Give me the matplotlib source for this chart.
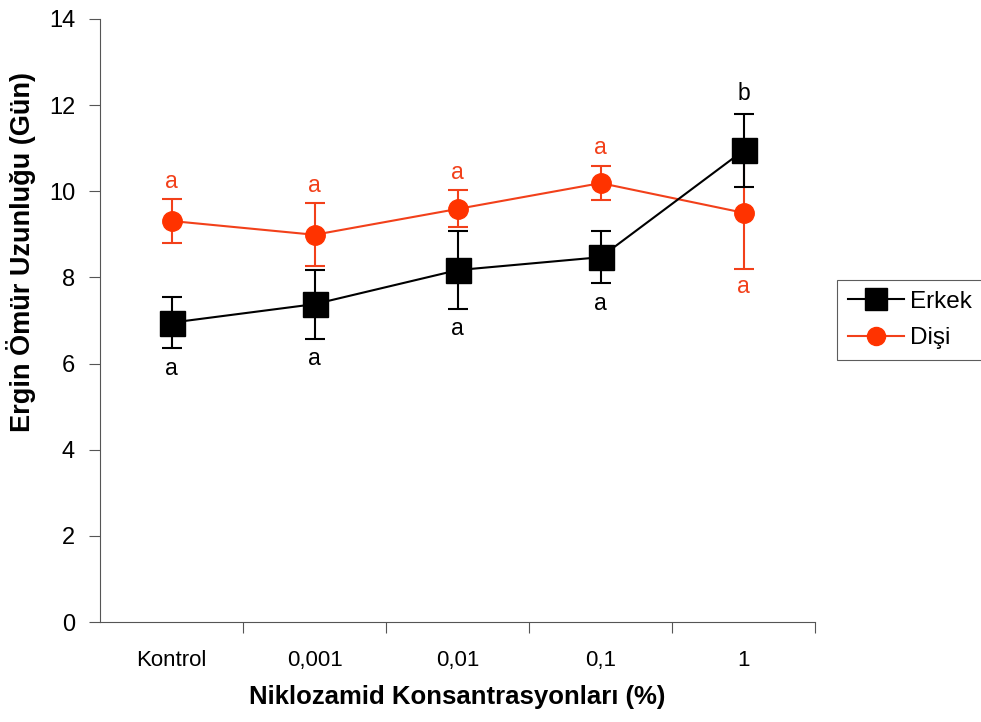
import matplotlib.pyplot as plt
from matplotlib.lines import Line2D
import numpy as np

plt.rcParams['font.family'] = ['Liberation Sans', 'DejaVu Sans']

categories = ["Kontrol", "0,001", "0,01", "0,1", "1"]

erkek = [6.95, 7.38, 8.17, 8.47, 10.95]
erkek_err = [0.6, 0.8, 0.9, 0.6, 0.85]
erkek_harf = ["a", "a", "a", "a", "b"]
erkek_yer = [-1, -1, -1, -1, 1]   # harf: 1 = üstte, -1 = altta

disi = [9.31, 8.99, 9.59, 10.19, 9.5]
disi_err = [0.5, 0.73, 0.43, 0.4, 1.3]
disi_harf = ["a", "a", "a", "a", "a"]
disi_yer = [1, 1, 1, 1, -1]

RED = "#f2401a"
MRED = "#ff3300"
AXC = "#555555"

fig = plt.figure(figsize=(9.81, 7.22), dpi=100)
ax = fig.add_axes([0.102, 0.1385, 0.729, 0.8352])

x = np.arange(len(categories)) + 0.5

ax.errorbar(x, disi, yerr=disi_err, color=RED, lw=1.5, marker="o", ms=14,
            mfc=MRED, mec=MRED, capsize=7, elinewidth=1.5,
            capthick=1.5, zorder=2)
ax.errorbar(x, erkek, yerr=erkek_err, color="black", lw=1.5, marker="s", ms=18,
            mfc="black", mec="black", capsize=7, elinewidth=1.5,
            capthick=1.5, zorder=3)

# anlamlılık harfleri
for xi, v, e, h, p in zip(x, erkek, erkek_err, erkek_harf, erkek_yer):
    ax.text(xi, v + p * (e + 0.2), h, ha="center",
            va="bottom" if p > 0 else "top", fontsize=16.5, color="black")
for xi, v, e, h, p in zip(x, disi, disi_err, disi_harf, disi_yer):
    ax.text(xi, v + p * (e + 0.15), h, ha="center",
            va="bottom" if p > 0 else "top", fontsize=16.5, color=RED)

ax.set_xlim(0, len(categories))
ax.set_ylim(0, 14)
ax.set_yticks(range(0, 15, 2))

# etiketler kategori ortasında, çentikler kategori sınırlarında
ax.set_xticks(x)
ax.set_xticklabels(categories, fontsize=16)
ax.set_xticks(np.arange(1, len(categories) + 1), minor=True)
ax.tick_params(axis="x", which="major", length=0, pad=20)
ax.tick_params(axis="x", which="minor", length=8, width=0.8, color=AXC)
ax.tick_params(axis="y", length=8, width=0.8, color=AXC, labelsize=17, pad=10)

for s in ["top", "right"]:
    ax.spines[s].set_visible(False)
for s in ["left", "bottom"]:
    ax.spines[s].set_color(AXC)
    ax.spines[s].set_linewidth(0.8)

ax.set_xlabel("Niklozamid Konsantrasyonları (%)", fontsize=18.5, fontweight="bold", labelpad=10)
ax.set_ylabel("Ergin Ömür Uzunluğu (Gün)", fontsize=19.5, fontweight="bold")
ax.yaxis.set_label_coords(-0.09, 0.614)

handles = [
    Line2D([], [], color="black", lw=1.5, marker="s", ms=16, mfc="black", mec="black"),
    Line2D([], [], color=RED, lw=1.5, marker="o", ms=13, mfc=MRED, mec=MRED),
]
leg = fig.legend(handles, ["Erkek", "Dişi"], loc="center left",
                 bbox_to_anchor=(0.853, 0.557), fontsize=17.5, frameon=True,
                 fancybox=False, borderpad=0.45, handlelength=2.3,
                 handletextpad=0.25, labelspacing=0.6, borderaxespad=0)
leg.get_frame().set_edgecolor("#333333")
leg.get_frame().set_linewidth(0.8)

fig.savefig("out.png", dpi=100)
